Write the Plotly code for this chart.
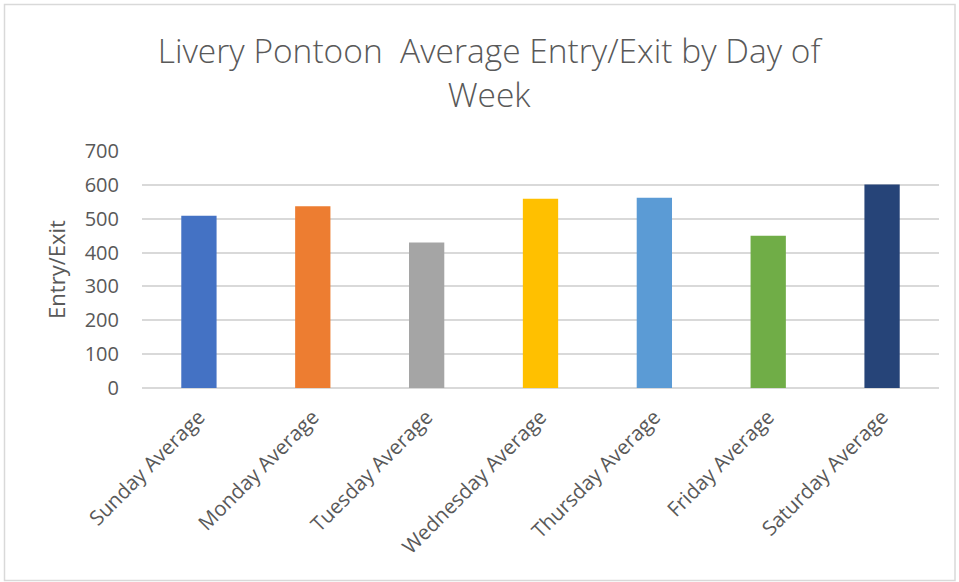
import plotly.graph_objects as go

# Average entries/exits per weekday
days = ["Sunday Average", "Monday Average", "Tuesday Average", "Wednesday Average",
        "Thursday Average", "Friday Average", "Saturday Average"]
averages = [509, 537, 430, 559, 562, 450, 601]
bar_colors = ["#4472C4", "#ED7D31", "#A5A5A5", "#FFC000", "#5B9BD5", "#70AD47", "#264478"]
y_ticks = [0, 100, 200, 300, 400, 500, 600, 700]

W, H = 959, 582
L, R, T, B = 142, 20, 151, 194
pw, ph = W - L - R, H - T - B

def px_x(x):
    return (x - L) / pw

def px_y(y):
    return (H - B - y) / ph

text_color = "#595959"
font_family = "Open Sans, Lato, sans-serif"

fig = go.Figure(go.Bar(
    x=days, y=averages, marker=dict(color=bar_colors, line=dict(width=0)),
    width=0.31, showlegend=False,
))

fig.update_layout(
    width=W, height=H,
    margin=dict(l=L, r=R, t=T, b=B),
    paper_bgcolor="white", plot_bgcolor="white",
    title=dict(
        text="Livery Pontoon  Average Entry/Exit by Day of<br>Week",
        x=0.51, xanchor="center", y=1 - 63 / H, yanchor="middle",
        font=dict(family=font_family, size=33.5, color=text_color, weight=300),
    ),
    font=dict(family=font_family, color=text_color),
    bargap=0.69,
    shapes=[dict(
        type="rect", xref="paper", yref="paper",
        x0=px_x(4.5), x1=px_x(955), y0=px_y(580.5), y1=px_y(4.5),
        line=dict(color="#d9d9d9", width=1.5), fillcolor="rgba(0,0,0,0)", layer="below",
    )],
)

fig.update_yaxes(
    range=[0, 700], tickvals=y_ticks,
    showgrid=True, gridcolor="#d9d9d9", gridwidth=1.5,
    zeroline=True, zerolinecolor="#d9d9d9", zerolinewidth=1.5,
    showline=False, ticks="", ticklabelstandoff=22,
    tickfont=dict(size=20, color=text_color),
    title=dict(text="Entry/Exit", font=dict(size=22, color=text_color), standoff=12),
)
fig.update_xaxes(
    tickangle=-45, showline=False, ticks="", showgrid=False, ticklabelstandoff=12,
    tickfont=dict(size=20.5, color=text_color),
)

fig.write_html("out.html")
